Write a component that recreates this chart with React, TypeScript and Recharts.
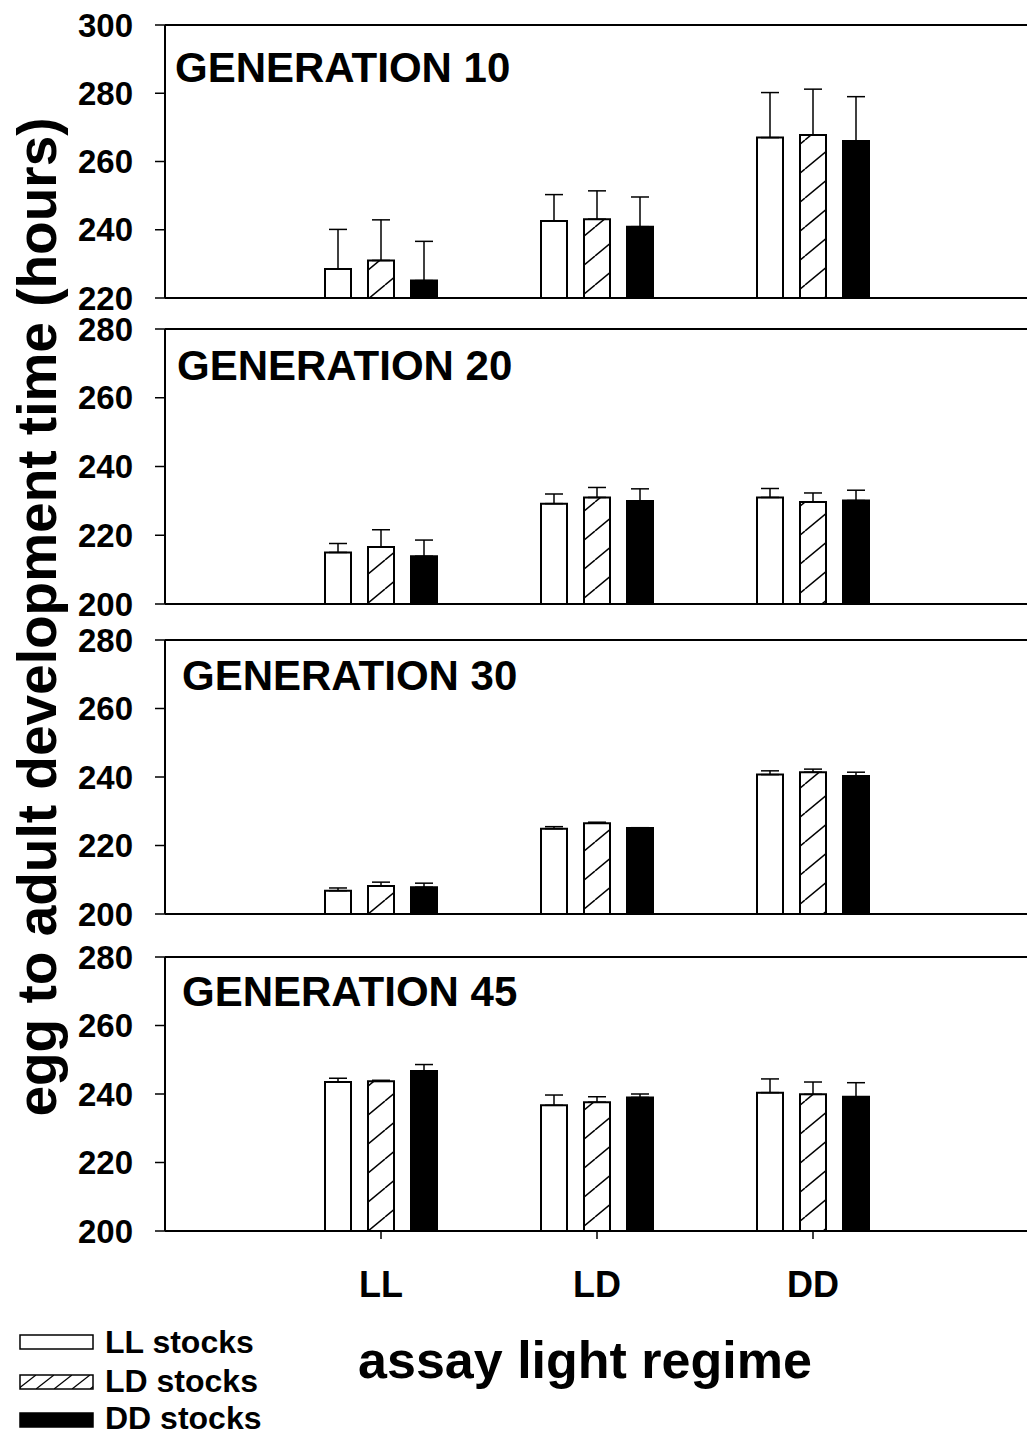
import React from 'react';
import { BarChart, Bar, XAxis, YAxis, ErrorBar, ReferenceLine } from 'recharts';

const FONT = '"Liberation Sans", Arial, Helvetica, sans-serif';

const regimes = ['LL', 'LD', 'DD'];
const stockNames = ['LL stocks', 'LD stocks', 'DD stocks'];

// means per assay regime (LL, LD, DD) and upper error (hours)
const gen10LL = [228.5, 242.6, 267.0];
const gen10LD = [231.0, 243.1, 267.8];
const gen10DD = [225.1, 240.9, 266.0];
const gen10LLErr = [11.6, 7.7, 13.2];
const gen10LDErr = [11.9, 8.3, 13.4];
const gen10DDErr = [11.5, 8.7, 13.0];

const gen20LL = [215.0, 229.2, 231.0];
const gen20LD = [216.6, 231.0, 229.7];
const gen20DD = [213.9, 230.0, 230.1];
const gen20LLErr = [2.6, 2.8, 2.6];
const gen20LDErr = [5.0, 2.9, 2.6];
const gen20DDErr = [4.7, 3.5, 3.0];

const gen30LL = [206.8, 224.9, 240.7];
const gen30LD = [208.2, 226.5, 241.4];
const gen30DD = [207.8, 225.1, 240.3];
const gen30LLErr = [0.8, 0.6, 1.1];
const gen30LDErr = [1.1, 0.3, 0.9];
const gen30DDErr = [1.2, 0.1, 1.1];

const gen45LL = [243.5, 236.7, 240.4];
const gen45LD = [243.7, 237.6, 239.9];
const gen45DD = [246.7, 239.0, 239.2];
const gen45LLErr = [1.1, 3.0, 4.0];
const gen45LDErr = [0.3, 1.6, 3.6];
const gen45DDErr = [1.9, 1.0, 4.1];

const ticks10 = [220, 240, 260, 280, 300];
const ticksOther = [200, 220, 240, 260, 280];

function rows(ll: number[], ld: number[], dd: number[], llE: number[], ldE: number[], ddE: number[]) {
  return regimes.map((r, i) => ({
    regime: r,
    ll: ll[i],
    ld: ld[i],
    dd: dd[i],
    llErr: [0, llE[i]],
    ldErr: [0, ldE[i]],
    ddErr: [0, ddE[i]],
  }));
}

const panels = [
  { label: 'GENERATION 10', data: rows(gen10LL, gen10LD, gen10DD, gen10LLErr, gen10LDErr, gen10DDErr), ticks: ticks10, top: 25, h: 273, lx: 175, ly: 82 },
  { label: 'GENERATION 20', data: rows(gen20LL, gen20LD, gen20DD, gen20LLErr, gen20LDErr, gen20DDErr), ticks: ticksOther, top: 329, h: 275, lx: 177, ly: 380 },
  { label: 'GENERATION 30', data: rows(gen30LL, gen30LD, gen30DD, gen30LLErr, gen30LDErr, gen30DDErr), ticks: ticksOther, top: 640, h: 274, lx: 182, ly: 690 },
  { label: 'GENERATION 45', data: rows(gen45LL, gen45LD, gen45DD, gen45LLErr, gen45LDErr, gen45DDErr), ticks: ticksOther, top: 957, h: 274, lx: 182, ly: 1006 },
];

const tickStyle = { fill: '#000', fontSize: 33, fontWeight: 700, fontFamily: FONT };

function Panel({ p, idx, last }: { p: (typeof panels)[number]; idx: number; last: boolean }) {
  const mt = 30;
  const xh = last ? 80 : 30;
  const hatch = `hatch${idx}`;
  return (
    <div style={{ position: 'absolute', left: 0, top: p.top - mt }}>
      <BarChart
        width={1040}
        height={mt + p.h + xh}
        data={p.data}
        margin={{ top: mt, right: 11, bottom: 0, left: 0 }}
        barSize={26}
        barGap={17}
      >
        <defs>
          <pattern id={hatch} patternUnits="userSpaceOnUse" width={35} height={29}>
            <line x1={0} y1={29} x2={35} y2={0} stroke="#000" strokeWidth={1.5} />
            <line x1={-35} y1={29} x2={0} y2={0} stroke="#000" strokeWidth={1.5} />
            <line x1={35} y1={29} x2={70} y2={0} stroke="#000" strokeWidth={1.5} />
          </pattern>
        </defs>
        <XAxis
          dataKey="regime"
          height={xh}
          padding={{ left: 108, right: 108 }}
          axisLine={{ stroke: '#000', strokeWidth: 2 }}
          tickLine={{ stroke: '#000', strokeWidth: 1.5 }}
          tickSize={8}
          tickMargin={last ? 32 : 0}
          tick={last ? { ...tickStyle, fontSize: 36 } : false}
          interval={0}
        />
        <YAxis
          width={165}
          domain={[p.ticks[0], p.ticks[p.ticks.length - 1]]}
          ticks={p.ticks}
          interval={0}
          axisLine={{ stroke: '#000', strokeWidth: 2 }}
          tickLine={{ stroke: '#000', strokeWidth: 1.5 }}
          tickSize={10}
          tickMargin={22}
          tick={tickStyle}
          allowDataOverflow
        />
        <ReferenceLine y={p.ticks[p.ticks.length - 1]} stroke="#000" strokeWidth={2} />
        <Bar dataKey="ll" fill="#fff" stroke="#000" strokeWidth={2} isAnimationActive={false}>
          <ErrorBar dataKey="llErr" width={9} stroke="#000" strokeWidth={1.5} direction="y" />
        </Bar>
        <Bar dataKey="ld" fill={`url(#${hatch})`} stroke="#000" strokeWidth={2} isAnimationActive={false}>
          <ErrorBar dataKey="ldErr" width={9} stroke="#000" strokeWidth={1.5} direction="y" />
        </Bar>
        <Bar dataKey="dd" fill="#000" stroke="#000" strokeWidth={2} isAnimationActive={false}>
          <ErrorBar dataKey="ddErr" width={9} stroke="#000" strokeWidth={1.5} direction="y" />
        </Bar>
      </BarChart>
    </div>
  );
}

const legendRows = [
  { y: 1335, fill: '#fff', ty: 1353 },
  { y: 1375, fill: 'url(#legendHatch)', ty: 1392 },
  { y: 1413, fill: '#000', ty: 1429 },
];

export default function App() {
  return (
    <div style={{ position: 'absolute', left: 0, top: 0, width: 1027, height: 1436, overflow: 'hidden', background: '#fff' }}>
      {panels.map((p, i) => (
        <Panel key={p.label} p={p} idx={i} last={i === panels.length - 1} />
      ))}
      <svg width={1027} height={1436} style={{ position: 'absolute', left: 0, top: 0, pointerEvents: 'none' }}>
        <defs>
          <pattern id="legendHatch" patternUnits="userSpaceOnUse" width={18} height={14} y={1375}>
            <line x1={0} y1={14} x2={18} y2={0} stroke="#000" strokeWidth={1.3} />
          </pattern>
        </defs>
        {panels.map((p) => (
          <text key={p.label} x={p.lx} y={p.ly} fontFamily={FONT} fontWeight={700} fontSize={42} fill="#000">
            {p.label}
          </text>
        ))}
        <text
          x={0}
          y={0}
          transform="translate(37,617) rotate(-90)"
          textAnchor="middle"
          dominantBaseline="central"
          fontFamily={FONT}
          fontWeight={700}
          fontSize={55}
          fill="#000"
        >
          egg to adult development time (hours)
        </text>
        <text x={585} y={1378} textAnchor="middle" fontFamily={FONT} fontWeight={700} fontSize={52} fill="#000">
          assay light regime
        </text>
        {legendRows.map((r, i) => (
          <g key={stockNames[i]}>
            <rect x={20} y={r.y} width={73} height={14} fill={r.fill} stroke="#000" strokeWidth={1.5} />
            <text x={105} y={r.ty} fontFamily={FONT} fontWeight={700} fontSize={32} fill="#000">
              {stockNames[i]}
            </text>
          </g>
        ))}
      </svg>
    </div>
  );
}
